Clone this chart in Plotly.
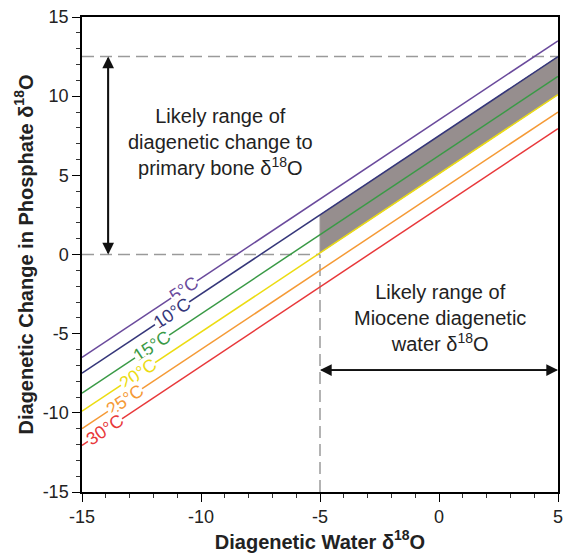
import plotly.graph_objects as go

# Data
water_d18o = [-15, 5]                      # x range of each temperature line
temps = ["5°C", "10°C", "15°C", "20°C", "25°C", "30°C"]
intercepts = [8.5, 7.5, 6.25, 5.1, 4.0, 2.95]   # y = x + b
colors = ["#6a4a9c", "#35367a", "#3a9a46", "#ecdc12", "#f59a36", "#e8383a"]
label_x = [-10.7, -11.2, -12.05, -12.65, -13.2, -14.05]
shade_x = [-5, 5]
likely_bone_range = [0, 12.5]
likely_water_range = [-5, 5]
tick_vals = [-15, -10, -5, 0, 5, 10, 15]
tick_text = ["-15", "-10", "-5", "0", "5", "10", "15"]
xtick_vals = [-15, -10, -5, 0, 5]
xtick_text = ["-15", "-10", "-5", "0", "5"]

FONT = "Liberation Sans, Arial, sans-serif"

def line_y(b, x):
    return x + b

fig = go.Figure()

# shaded region between 10°C and 20°C lines, x from -5 to 5
b_top, b_bot = intercepts[1], intercepts[3]
sx = [shade_x[0], shade_x[1], shade_x[1], shade_x[0], shade_x[0]]
sy = [line_y(b_top, shade_x[0]), line_y(b_top, shade_x[1]),
      line_y(b_bot, shade_x[1]), line_y(b_bot, shade_x[0]), line_y(b_top, shade_x[0])]
fig.add_trace(go.Scatter(x=sx, y=sy, fill="toself", fillcolor="#968e8e",
                         line=dict(color="#a09a9a", width=1), mode="lines",
                         hoverinfo="skip", showlegend=False))

# dashed guide lines
dash = dict(color="#9a9a9a", width=1.5, dash="12px,6px")
fig.add_trace(go.Scatter(x=[water_d18o[0], water_d18o[1]], y=[likely_bone_range[1]] * 2,
                         mode="lines", line=dash, showlegend=False, hoverinfo="skip"))
fig.add_trace(go.Scatter(x=[water_d18o[0], likely_water_range[0]], y=[likely_bone_range[0]] * 2,
                         mode="lines", line=dash, showlegend=False, hoverinfo="skip"))
fig.add_trace(go.Scatter(x=[likely_water_range[0]] * 2, y=[-15, likely_bone_range[0]],
                         mode="lines", line=dash, showlegend=False, hoverinfo="skip"))

# temperature lines
for name, b, c in zip(temps, intercepts, colors):
    fig.add_trace(go.Scatter(x=water_d18o, y=[line_y(b, v) for v in water_d18o],
                             mode="lines", line=dict(color=c, width=1.5),
                             name=name, showlegend=False))

# labels on lines
for name, b, c, lx in zip(temps, intercepts, colors, label_x):
    fig.add_annotation(x=lx, y=line_y(b, lx), text=name, showarrow=False,
                       textangle=-33.7, font=dict(family=FONT, size=18, color=c),
                       bgcolor="white", borderpad=0)

# double arrows
arrow_x = -13.9
for y0, y1 in [(likely_bone_range[0], likely_bone_range[1]), (likely_bone_range[1], likely_bone_range[0])]:
    fig.add_annotation(x=arrow_x, y=y1, ax=arrow_x, ay=y0, xref="x", yref="y",
                       axref="x", ayref="y", showarrow=True, arrowhead=2,
                       arrowsize=1.3, arrowwidth=1.8, arrowcolor="#111111", text="")
arrow_y = -7.3
for x0, x1 in [(likely_water_range[0], likely_water_range[1]), (likely_water_range[1], likely_water_range[0])]:
    fig.add_annotation(x=x1, y=arrow_y, ax=x0, ay=arrow_y, xref="x", yref="y",
                       axref="x", ayref="y", showarrow=True, arrowhead=2,
                       arrowsize=1.3, arrowwidth=1.8, arrowcolor="#111111", text="")

# text annotations
fig.add_annotation(x=-9.2, y=7.1, showarrow=False, align="center",
                   text="Likely range of<br>diagenetic change to<br>primary bone δ<sup>18</sup>O",
                   font=dict(family=FONT, size=20, color="#222222"))
fig.add_annotation(x=0.05, y=-4.0, showarrow=False, align="center",
                   text="Likely range of<br>Miocene diagenetic<br>water δ<sup>18</sup>O",
                   font=dict(family=FONT, size=20, color="#222222"))

axis_common = dict(showgrid=False, zeroline=False, showline=True, linecolor="black",
                   linewidth=1.5, mirror=True, ticks="outside", ticklen=8, tickwidth=1.2,
                   tickcolor="black", automargin=False, ticklabeloverflow="allow",
                   tickfont=dict(family=FONT, size=18, color="#222222"),
                   minor=dict(ticks="outside", ticklen=4, tickwidth=1, tickcolor="#333333", dtick=1))

fig.update_xaxes(range=[-15, 5], tickvals=xtick_vals, ticktext=xtick_text,
                 title=dict(text="<b>Diagenetic Water δ<sup>18</sup>O</b>",
                            font=dict(family=FONT, size=20, color="#222222"), standoff=2),
                 **axis_common)
fig.update_yaxes(range=[-15, 15], tickvals=tick_vals, ticktext=tick_text,
                 title=dict(text="<b>Diagenetic Change in Phosphate δ<sup>18</sup>O</b>",
                            font=dict(family=FONT, size=20, color="#222222"), standoff=4),
                 **axis_common)

fig.update_layout(width=563, height=555, margin=dict(l=82, r=5, t=17, b=63),
                  plot_bgcolor="white", paper_bgcolor="white", showlegend=False)

fig.write_html("out.html", config={"displayModeBar": False},
               post_script="document.body.style.margin='0';document.body.style.overflow='hidden';")
